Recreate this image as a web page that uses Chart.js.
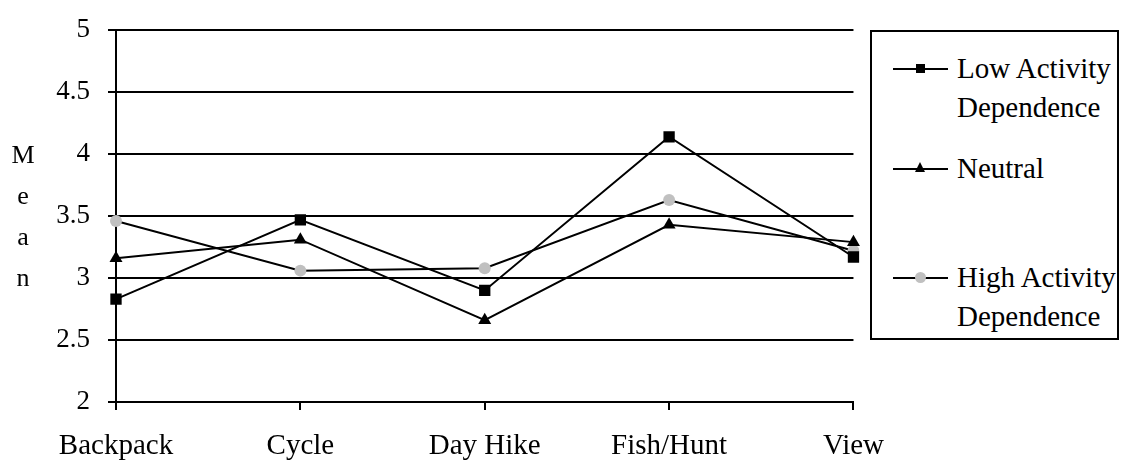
<!DOCTYPE html>
<html>
<head>
<meta charset="utf-8">
<script src="https://cdn.jsdelivr.net/npm/chart.js@4"></script>
<style>
  html, body { margin: 0; padding: 0; background: #fff; }
  body { width: 1125px; height: 462px; position: relative; overflow: hidden; font-family: "Liberation Serif", "Times New Roman", serif; color: #000; }
  #wrap { position: absolute; left: 0; top: -4px; width: 903px; height: 466px; }
  #ytitle { position: absolute; left: 9px; top: 134px; width: 28px; text-align: center; font-size: 26px; line-height: 41px; }
  #legend { position: absolute; left: 870px; top: 30px; width: 249px; height: 310px; border: 2px solid #000; box-sizing: border-box; font-size: 29px; background: #fff; }
  .item { position: absolute; left: 21px; }
  .sample { position: absolute; left: 0; width: 55px; height: 2px; background: #000; }
  .mk { position: absolute; }
  .label { position: absolute; left: 64px; white-space: nowrap; line-height: 39px; }
</style>
</head>
<body>
<div id="wrap"><canvas id="c" width="903" height="466"></canvas></div>
<div id="ytitle">M<br>e<br>a<br>n</div>
<div id="legend"></div>
<script>
const categories = ["Backpack", "Cycle", "Day Hike", "Fish/Hunt", "View"];
const seriesNames = [["Low Activity", "Dependence"], ["Neutral"], ["High Activity", "Dependence"]];
const lowActivity  = [2.83, 3.47, 2.90, 4.14, 3.17];
const neutral      = [3.16, 3.31, 2.66, 3.43, 3.29];
const highActivity = [3.46, 3.06, 3.08, 3.63, 3.22];
const yTicks = [2, 2.5, 3, 3.5, 4, 4.5, 5];

const FONT = "'Liberation Serif', 'Times New Roman', serif";

const chart = new Chart(document.getElementById('c'), {
  type: 'line',
  data: {
    labels: categories,
    datasets: [
      { label: seriesNames[0].join(' '), data: lowActivity, borderColor: '#000', backgroundColor: '#000', borderWidth: 2, pointStyle: 'rect', pointRadius: 8, pointBorderWidth: 0, tension: 0 },
      { label: seriesNames[1].join(' '), data: neutral, borderColor: '#000', backgroundColor: '#000', borderWidth: 2, pointStyle: 'triangle', pointRadius: 7.5, pointBorderWidth: 0, tension: 0 },
      { label: seriesNames[2].join(' '), data: highActivity, borderColor: '#000', backgroundColor: '#c0c0c0', borderWidth: 2, pointStyle: 'circle', pointRadius: 6, pointBorderWidth: 0, tension: 0 }
    ]
  },
  options: {
    responsive: false,
    animation: false,
    events: [],
    layout: { padding: { top: 26, right: 0, left: 0, bottom: 0 } },
    plugins: { legend: { display: false }, tooltip: { enabled: false } },
    scales: {
      x: {
        type: 'category',
        offset: false,
        border: { display: true, color: '#000', width: 2 },
        grid: { display: true, drawOnChartArea: false, drawTicks: true, tickLength: 8, color: '#000', lineWidth: 2 },
        ticks: { color: '#000', font: { family: FONT, size: 29 }, padding: 19, maxRotation: 0, autoSkip: false },
        afterFit: s => { s.height = 60; }
      },
      y: {
        min: 2, max: 5,
        afterBuildTicks: s => { s.ticks = yTicks.map(v => ({ value: v })); },
        border: { display: true, color: '#000', width: 2 },
        grid: { color: '#000', lineWidth: 2, tickLength: 8, drawTicks: true },
        ticks: { color: '#000', font: { family: FONT, size: 27 }, padding: 18, callback: v => String(v) },
        afterFit: s => { s.width = 116; }
      }
    }
  }
});

// HTML legend
const legend = document.getElementById('legend');
const rows = [
  { top: 36, mk: 'square' },
  { top: 136, mk: 'triangle' },
  { top: 245, mk: 'circle' }
];
rows.forEach((r, i) => {
  const item = document.createElement('div');
  item.className = 'item';
  item.style.top = r.top + 'px';
  const line = document.createElement('div');
  line.className = 'sample';
  line.style.top = '0px';
  item.appendChild(line);
  const mk = document.createElement('div');
  mk.className = 'mk';
  if (r.mk === 'square') {
    Object.assign(mk.style, { left: '23px', top: '-4px', width: '9px', height: '9px', background: '#000' });
  } else if (r.mk === 'triangle') {
    Object.assign(mk.style, { left: '22px', top: '-6px', width: '0', height: '0', borderLeft: '5.5px solid transparent', borderRight: '5.5px solid transparent', borderBottom: '10px solid #000' });
  } else {
    Object.assign(mk.style, { left: '22px', top: '-5px', width: '11px', height: '11px', borderRadius: '50%', background: '#c0c0c0' });
  }
  item.appendChild(mk);
  const lab = document.createElement('div');
  lab.className = 'label';
  lab.style.top = '-19px';
  lab.innerHTML = seriesNames[i].join('<br>');
  item.appendChild(lab);
  legend.appendChild(item);
});
</script>
</body>
</html>
